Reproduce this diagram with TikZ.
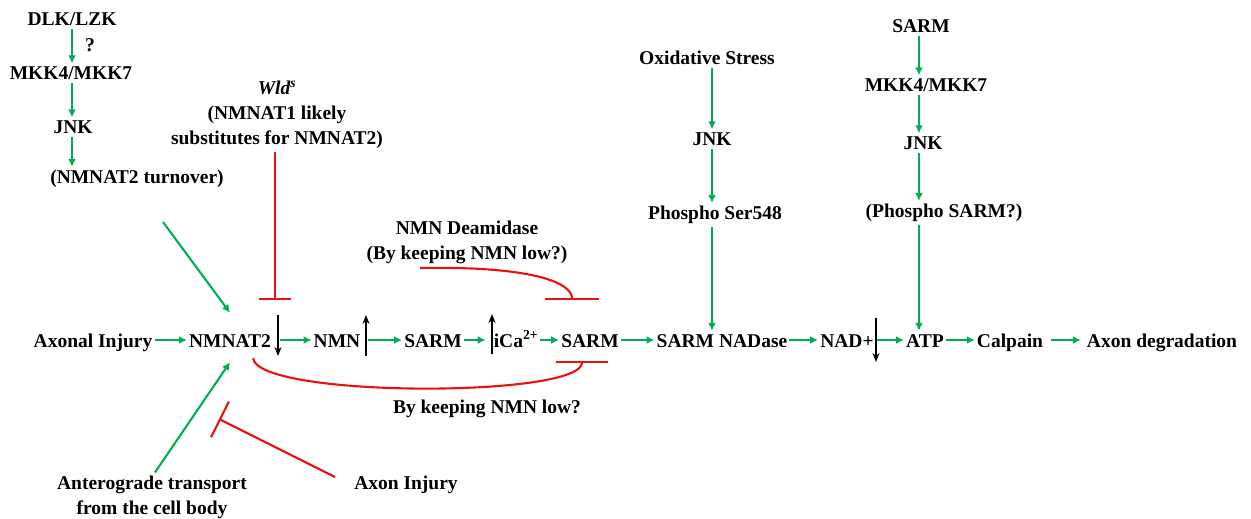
\documentclass[tikz,border=0pt]{standalone}
\usepackage{fontspec}
\setmainfont{Liberation Serif}
\usetikzlibrary{arrows.meta}
\definecolor{actgreen}{RGB}{0,176,80}
\definecolor{inhred}{RGB}{232,16,16}

\begin{document}
\begin{tikzpicture}[x=1pt,y=-1pt,
  lbl/.style={font=\bfseries\fontsize{19.5}{25}\selectfont,inner sep=3pt,align=center},
  row/.style={lbl,anchor=base,text height=14pt,text depth=0pt,inner sep=2pt},
  act/.style={actgreen,line width=2.1pt,-{Latex[length=8pt,width=8pt]}},
  inh/.style={inhred,line width=2.1pt,-{Bar[width=#1,line width=2.1pt]}},
  lvl/.style={black,line width=1.8pt,-{Stealth[length=9pt,width=7pt]}}]
  \useasboundingbox (0,0) rectangle (1251,519);
  \node[row] (ax) at (93,347) {Axonal Injury};
  \node[row] (nmnat) at (230,347) {NMNAT2};
  \node[row] (nmn) at (337,347) {NMN};
  \node[row] (sarma) at (433,347) {SARM};
  \node[row] (ica) at (516,347) {iCa\textsuperscript{2+}};
  \node[row] (sarmb) at (590,347) {SARM};
  \node[row] (nadase) at (722,347) {SARM NADase};
  \node[row] (nad) at (847,347) {NAD+};
  \node[row] (atp) at (925,347) {ATP};
  \node[row] (calp) at (1010,347) {Calpain};
  \node[row] (deg) at (1162,347) {Axon degradation};
  \draw[act] (ax) -- (nmnat);
  \draw[act,shorten <=7pt] (nmnat) -- (nmn);
  \draw[act,shorten <=6pt] (nmn) -- (sarma);
  \draw[act,shorten >=6pt] (sarma) -- (ica);
  \draw[act] (ica) -- (sarmb);
  \draw[act] (sarmb) -- (nadase);
  \draw[act] (nadase) -- (nad);
  \draw[act] (nad) -- (atp);
  \draw[act] (atp) -- (calp);
  \draw[act,shorten <=6pt,shorten >=4pt] (calp) -- (deg);
  \coordinate (nmnatlvl) at (278,315);
  \coordinate (nmnlvl) at (366,356);
  \coordinate (icalvl) at (492,354);
  \coordinate (nadlvl) at (876,318);
  \draw[lvl] (nmnatlvl) -- ++(0,41);
  \draw[lvl] (nmnlvl) -- ++(0,-41);
  \draw[lvl] (icalvl) -- ++(0,-40);
  \draw[lvl] (nadlvl) -- ++(0,44);
  \node[lbl] (dlk) at (72,19) {DLK/LZK};
  \node[lbl] (mkka) at (71,73) {MKK4/MKK7};
  \node[lbl] (jnka) at (73,127) {JNK};
  \node[lbl] (turn) at (137,179) {(NMNAT2 turnover)};
  \node[lbl] (qmark) at (90,45) {?};
  \draw[act] (dlk.south -| 72,0) -- (mkka.north -| 72,0);
  \draw[act] (mkka.south -| 72,0) -- (jnka.north -| 72,0);
  \draw[act] (jnka.south -| 72,0) -- (turn.north -| 72,0);
  \draw[act] (163,222) -- ([yshift=18pt]nmnat.north);
  \node[lbl] (wld) at (277,115) {{\itshape Wld\textsuperscript{s}}\\(NMNAT1 likely\\substitutes for NMNAT2)};
  \coordinate (wldbar) at (275,300);
  \draw[inh=32pt] (wld.south -| wldbar) -- (wldbar);
  \node[lbl] (deam) at (467,242) {NMN Deamidase\\(By keeping NMN low?)};
  \coordinate (deambar) at (572,300);
  \draw[inh=54pt] (420,268) .. controls (530,266) and (572,282) .. (deambar);
  \node[lbl] (keep) at (487,409) {By keeping NMN low?};
  \coordinate (sarmbar) at (582,361);
  \draw[inh=52pt] ([shift={(23pt,-9pt)}]nmnat.south) .. controls (258,398) and (582,398) .. (sarmbar);
  \node[lbl] (antero) at (152,497) {Anterograde transport\\from the cell body};
  \node[lbl] (axinj) at (406,485) {Axon Injury};
  \draw[act] (antero.north -| 155,0) -- ([yshift=-13pt]nmnat.south);
  \draw[inh=40pt] ([shift={(-16pt,8pt)}]axinj.west) -- (219,419);
  \node[lbl] (oxid) at (707,58) {Oxidative Stress};
  \node[lbl] (jnkb) at (712,139) {JNK};
  \node[lbl] (pser) at (715,215) {Phospho Ser548};
  \draw[act] (oxid.south -| jnkb) -- (jnkb);
  \draw[act] (jnkb) -- (pser.north -| jnkb);
  \draw[act] (pser.south -| jnkb) -- (nadase.north -| jnkb);
  \node[lbl] (sarmc) at (921,26) {SARM};
  \node[lbl] (mkkb) at (926,85) {MKK4/MKK7};
  \node[lbl] (jnkc) at (923,143) {JNK};
  \node[lbl] (psarm) at (944,213) {(Phospho SARM?)};
  \draw[act] (sarmc.south -| 919,0) -- (mkkb.north -| 919,0);
  \draw[act] (mkkb.south -| 919,0) -- (jnkc.north -| 919,0);
  \draw[act] (jnkc.south -| 919,0) -- (psarm.north -| 919,0);
  \draw[act] (psarm.south -| 919,0) -- (atp.north -| 919,0);
\end{tikzpicture}
\end{document}
